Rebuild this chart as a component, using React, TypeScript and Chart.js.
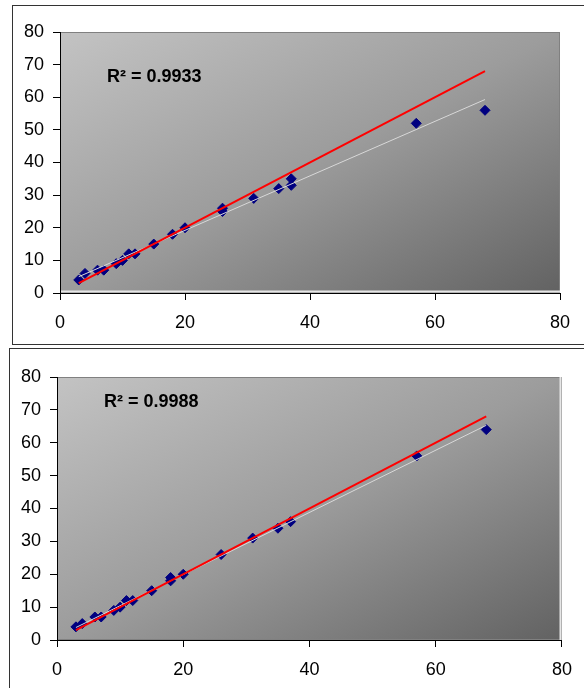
import React, { useEffect, useRef } from "react";
import { Chart, registerables } from "chart.js";

Chart.register(...registerables);

// ---- Data (top chart) ----
const topX = [3, 4, 6, 7, 9, 10, 11, 12, 15, 18, 20, 26, 26, 31, 35, 37, 37, 57, 68];
const topY = [4, 6, 7, 7, 9, 10, 12, 12, 15, 18, 20, 26, 25, 29, 32, 35, 33, 52, 56];
const topTrendX = [3, 68];
const topTrendY = [5.0, 59.3];
const topIdentityX = [3, 68];
const topIdentityY = [3, 68];
const topR2 = "R\u00B2 = 0.9933";

// ---- Data (bottom chart) ----
const botX = [3, 4, 6, 7, 9, 10, 11, 12, 15, 18, 18, 20, 26, 31, 35, 37, 57, 68];
const botY = [4, 5, 7, 7, 9, 10, 12, 12, 15, 19, 18, 20, 26, 31, 34, 36, 56, 64];
const botTrendX = [3, 68];
const botTrendY = [3.8, 65.3];
const botIdentityX = [3, 68];
const botIdentityY = [3, 68];
const botR2 = "R\u00B2 = 0.9988";

// ---- Axes ----
const xTickValues = [0, 20, 40, 60, 80];
const yTickValues = [0, 10, 20, 30, 40, 50, 60, 70, 80];

const zip = (xs: number[], ys: number[]) => xs.map((x, i) => ({ x, y: ys[i] }));

const plotBgPlugin = {
  id: "plotBg",
  beforeDraw(chart: any, _args: any, opts: any) {
    const { ctx, chartArea: a } = chart;
    if (!a) return;
    const w = a.right - a.left;
    const h = a.bottom - a.top;
    ctx.save();
    ctx.translate(a.left, a.top);
    ctx.scale(w, h);
    const g = ctx.createLinearGradient(0, 0, 1, 1);
    g.addColorStop(0, "#c3c3c3");
    g.addColorStop(0.5, "#9c9c9c");
    g.addColorStop(1, "#626262");
    ctx.fillStyle = g;
    ctx.fillRect(0, 0, 1, 1);
    ctx.restore();
    ctx.save();
    ctx.strokeStyle = "#808080";
    ctx.lineWidth = 1;
    ctx.strokeRect(a.left + 0.5, a.top + 0.5, w - 1, h - 1);
    ctx.strokeStyle = "#e6e6e6";
    ctx.lineWidth = 2;
    ctx.beginPath();
    if (opts.lightEdge === "bottom") {
      ctx.moveTo(a.left, a.bottom - 1.5);
      ctx.lineTo(a.right, a.bottom - 1.5);
    } else {
      ctx.moveTo(a.right - 1.5, a.top);
      ctx.lineTo(a.right - 1.5, a.bottom);
    }
    ctx.stroke();
    ctx.restore();
  },
  afterDraw(chart: any, _args: any, opts: any) {
    const { ctx, chartArea: a } = chart;
    ctx.save();
    ctx.font = "bold 18px 'Liberation Sans', Arial, sans-serif";
    ctx.fillStyle = "#000";
    ctx.textBaseline = "middle";
    ctx.textAlign = "left";
    ctx.fillText(opts.text, a.left + opts.dx, a.top + opts.dy);
    ctx.restore();
  },
};

type PanelProps = {
  xs: number[];
  ys: number[];
  tx: number[];
  ty: number[];
  ix: number[];
  iy: number[];
  r2: string;
  width: number;
  height: number;
  padTop: number;
  padRight: number;
  xAxisH: number;
  textDx: number;
  textDy: number;
  lightEdge: string;
};

function Panel(p: PanelProps) {
  const ref = useRef<HTMLCanvasElement>(null);
  useEffect(() => {
    if (!ref.current) return;
    const tickFont = { family: "'Liberation Sans', Arial, sans-serif", size: 18 };
    const chart = new Chart(ref.current, {
      type: "scatter",
      data: {
        datasets: [
          {
            type: "line",
            data: zip(p.ix, p.iy),
            borderColor: "#ff0000",
            borderWidth: 2,
            pointRadius: 0,
            fill: false,
            order: 1,
          } as any,
          {
            type: "line",
            data: zip(p.tx, p.ty),
            borderColor: "#d8d8d8",
            borderWidth: 1,
            pointRadius: 0,
            fill: false,
            order: 2,
          } as any,
          {
            data: zip(p.xs, p.ys),
            pointStyle: "rectRot",
            pointRadius: 5,
            backgroundColor: "#000080",
            borderColor: "#000080",
            borderWidth: 1,
            order: 3,
          },
        ],
      },
      options: {
        animation: false,
        responsive: false,
        layout: { padding: { top: p.padTop, right: p.padRight, left: 0, bottom: 0 } },
        plugins: {
          legend: { display: false },
          tooltip: { enabled: false },
          plotBg: { text: p.r2, dx: p.textDx, dy: p.textDy, lightEdge: p.lightEdge },
        } as any,
        scales: {
          x: {
            type: "linear",
            min: 0,
            max: 80,
            afterBuildTicks: (s: any) => {
              s.ticks = xTickValues.map((v) => ({ value: v }));
            },
            afterFit: (s: any) => {
              s.height = p.xAxisH;
            },
            grid: { drawOnChartArea: false, drawTicks: true, tickLength: 7, color: "#000" },
            border: { display: true, color: "#000", width: 1 },
            ticks: { color: "#000", font: tickFont, padding: 12, maxRotation: 0 },
          },
          y: {
            type: "linear",
            min: 0,
            max: 80,
            afterBuildTicks: (s: any) => {
              s.ticks = yTickValues.map((v) => ({ value: v }));
            },
            afterFit: (s: any) => {
              s.width = 47;
            },
            grid: { drawOnChartArea: false, drawTicks: true, tickLength: 7, color: "#000" },
            border: { display: true, color: "#000", width: 1 },
            ticks: { color: "#000", font: tickFont, padding: 9 },
          },
        },
      },
      plugins: [plotBgPlugin],
    });
    return () => chart.destroy();
  }, []);
  return <canvas ref={ref} width={p.width} height={p.height} style={{ display: "block" }} />;
}

export default function App() {
  return (
    <div
      style={{
        position: "absolute",
        left: 0,
        top: 0,
        width: 584,
        height: 688,
        overflow: "hidden",
        background: "#fff",
      }}
    >
      <div
        style={{
          position: "absolute",
          left: 12,
          top: 5,
          width: 600,
          height: 338,
          border: "1px solid #333",
        }}
      />
      <div style={{ position: "absolute", left: 13, top: 6 }}>
        <Panel
          xs={topX}
          ys={topY}
          tx={topTrendX}
          ty={topTrendY}
          ix={topIdentityX}
          iy={topIdentityY}
          r2={topR2}
          width={571}
          height={337}
          padTop={26}
          padRight={24}
          xAxisH={50}
          textDx={47}
          textDy={45}
          lightEdge="bottom"
        />
      </div>
      <div
        style={{
          position: "absolute",
          left: 9,
          top: 348,
          width: 600,
          height: 400,
          border: "1px solid #333",
        }}
      />
      <div style={{ position: "absolute", left: 10, top: 350 }}>
        <Panel
          xs={botX}
          ys={botY}
          tx={botTrendX}
          ty={botTrendY}
          ix={botIdentityX}
          iy={botIdentityY}
          r2={botR2}
          width={574}
          height={338}
          padTop={27}
          padRight={20}
          xAxisH={48}
          textDx={47}
          textDy={25}
          lightEdge="right"
        />
      </div>
    </div>
  );
}
